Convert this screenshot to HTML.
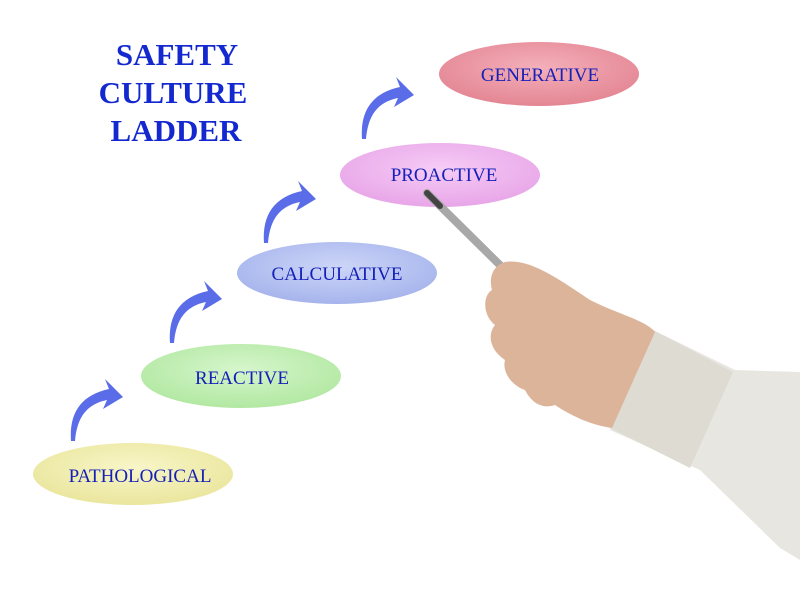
<!DOCTYPE html>
<html><head><style>
html,body{margin:0;padding:0;background:#fff;}
svg{display:block;}
</style></head><body>
<svg width="800" height="609" viewBox="0 0 800 609" xmlns="http://www.w3.org/2000/svg">
<defs>
<radialGradient id="gy" cx="50%" cy="40%" r="60%"><stop offset="0" stop-color="#f8f6c8"/><stop offset="1" stop-color="#eae69e"/></radialGradient>
<radialGradient id="gg" cx="50%" cy="40%" r="60%"><stop offset="0" stop-color="#d6f6cc"/><stop offset="1" stop-color="#b2e8a2"/></radialGradient>
<radialGradient id="gb" cx="50%" cy="40%" r="60%"><stop offset="0" stop-color="#cdd6f8"/><stop offset="1" stop-color="#a6b4ec"/></radialGradient>
<radialGradient id="gp" cx="50%" cy="40%" r="60%"><stop offset="0" stop-color="#f6ccf6"/><stop offset="1" stop-color="#e8a6e8"/></radialGradient>
<radialGradient id="gr" cx="50%" cy="40%" r="60%"><stop offset="0" stop-color="#f4b0ba"/><stop offset="1" stop-color="#e48694"/></radialGradient>
<path id="arr" d="M0,0 C-2,-28 10,-46 38,-52 L34,-62 L52,-44 L32,-32 L36,-41 C16,-37 6,-24 4,0 Z"/>
</defs>
<g font-family="Liberation Serif, serif" font-weight="bold" font-size="31" fill="#1428d0" text-anchor="middle">
<text x="177" y="65">SAFETY</text>
<text x="173" y="103">CULTURE</text>
<text x="176" y="141">LADDER</text>
</g>
<ellipse cx="133" cy="474" rx="100" ry="31" fill="url(#gy)"/>
<ellipse cx="241" cy="376" rx="100" ry="32" fill="url(#gg)"/>
<ellipse cx="337" cy="273" rx="100" ry="31" fill="url(#gb)"/>
<ellipse cx="440" cy="175" rx="100" ry="32" fill="url(#gp)"/>
<ellipse cx="539" cy="74" rx="100" ry="32" fill="url(#gr)"/>
<g fill="#5a6ce8">
<use href="#arr" transform="translate(71,441)"/>
<use href="#arr" transform="translate(170,343)"/>
<use href="#arr" transform="translate(264,243)"/>
<use href="#arr" transform="translate(362,139)"/>
</g>
<g font-family="Liberation Serif, serif" font-size="19" fill="#1420b8" text-anchor="middle">
<text x="140" y="482">PATHOLOGICAL</text>
<text x="242" y="384">REACTIVE</text>
<text x="337" y="280">CALCULATIVE</text>
<text x="444" y="181">PROACTIVE</text>
<text x="540" y="81">GENERATIVE</text>
</g>
<line x1="427" y1="193" x2="512" y2="277" stroke="#a8a8a8" stroke-width="8" stroke-linecap="round"/>
<line x1="427" y1="193" x2="440" y2="206" stroke="#444" stroke-width="6" stroke-linecap="round"/>
<path d="M653,330 L735,370 L800,372 L800,560 L780,548 L700,470 L610,430 Z" fill="#e8e6e0"/>
<path d="M653,330 L733,372 L690,468 L610,428 Z" fill="#dedbd3"/>
<path d="M505,262 C530,258 560,280 590,300 C620,315 645,320 655,332 L612,428 C590,425 570,415 555,405 C540,410 530,400 525,390 C510,385 502,370 505,360 C490,350 487,335 495,325 C482,315 483,295 492,290 C488,275 495,265 505,262 Z" fill="#dcb49a"/>
</svg>
</body></html>
